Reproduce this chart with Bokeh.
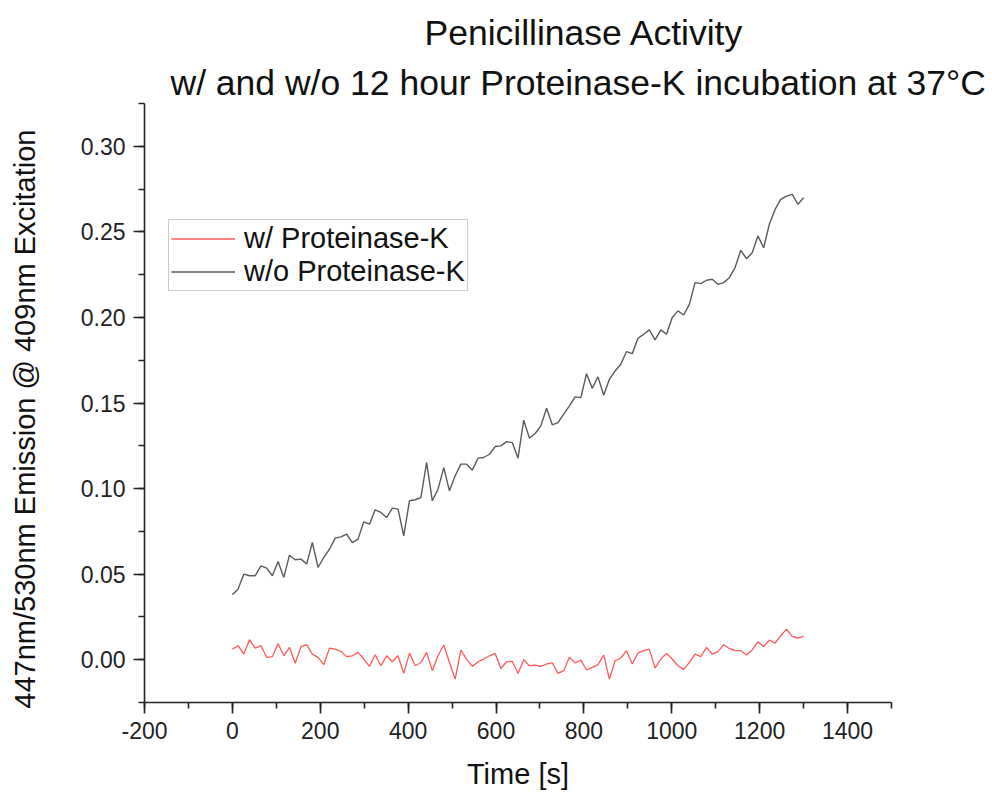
from bokeh.plotting import figure
from bokeh.models import Range1d, FixedTicker, Title, Legend, LegendItem, PrintfTickFormatter
from bokeh.embed import file_html
from bokeh.resources import INLINE

# ---- data ----
time_s = [0, 13, 26, 39, 52, 65, 78, 91, 104, 117, 130, 143, 156, 169, 182, 195, 208, 221, 234, 247,
          260, 273, 286, 299, 312, 325, 338, 351, 364, 377, 390, 403, 416, 429, 442, 455, 468, 481, 494, 507,
          520, 533, 546, 559, 572, 585, 598, 611, 624, 637, 650, 663, 676, 689, 702, 715, 728, 741, 754, 767,
          780, 793, 806, 819, 832, 845, 858, 871, 884, 897, 910, 923, 936, 949, 962, 975, 988, 1001, 1014, 1027,
          1040, 1053, 1066, 1079, 1092, 1105, 1118, 1131, 1144, 1157, 1170, 1183, 1196, 1209, 1222, 1235, 1248,
          1261, 1274, 1287, 1300]

with_pk = [0.0062, 0.0082, 0.0033, 0.0117, 0.0068, 0.0082, 0.0014, 0.0018, 0.0095, 0.0023,
           0.0072, -0.0021, 0.0076, 0.0088, 0.0033, 0.0014, -0.0029, 0.0068, 0.0062, 0.0049,
           0.0018, 0.0023, 0.0043, 0.0004, -0.0039, 0.0029, -0.0035, 0.0023, -0.0012, 0.0023,
           -0.0080, 0.0039, -0.0035, -0.0016, 0.0043, -0.0064, 0.0023, 0.0086, -0.0016, -0.0113,
           0.0057, 0.0004, -0.0039, -0.0012, 0.0004, 0.0023, 0.0037, -0.0051, -0.0012, -0.0010,
           -0.0080, 0.0000, -0.0035, -0.0031, -0.0039, -0.0025, -0.0019, -0.0080, -0.0064, 0.0014,
           -0.0019, -0.0002, -0.0060, -0.0045, -0.0029, 0.0027, -0.0113, -0.0006, 0.0010, 0.0053,
           -0.0025, 0.0039, 0.0053, 0.0062, -0.0049, 0.0004, 0.0037, 0.0004, -0.0035, -0.0058,
           -0.0016, 0.0033, 0.0018, 0.0072, 0.0033, 0.0047, 0.0088, 0.0066, 0.0053, 0.0053,
           0.0027, 0.0057, 0.0105, 0.0076, 0.0115, 0.0097, 0.0140, 0.0179, 0.0136, 0.0127,
           0.0136]

without_pk = [0.0380, 0.0413, 0.0500, 0.0491, 0.0491, 0.0549, 0.0535, 0.0491, 0.0574, 0.0481,
              0.0611, 0.0584, 0.0588, 0.0559, 0.0685, 0.0539, 0.0598, 0.0646, 0.0711, 0.0718,
              0.0734, 0.0685, 0.0705, 0.0806, 0.0792, 0.0876, 0.0861, 0.0831, 0.0886, 0.0880,
              0.0724, 0.0929, 0.0935, 0.0948, 0.1153, 0.0929, 0.0997, 0.1123, 0.0987, 0.1075,
              0.1143, 0.1143, 0.1108, 0.1178, 0.1182, 0.1201, 0.1246, 0.1250, 0.1275, 0.1269,
              0.1178, 0.1400, 0.1295, 0.1322, 0.1367, 0.1470, 0.1373, 0.1386, 0.1435, 0.1484,
              0.1536, 0.1532, 0.1672, 0.1587, 0.1653, 0.1546, 0.1639, 0.1688, 0.1727, 0.1801,
              0.1789, 0.1879, 0.1902, 0.1928, 0.1869, 0.1928, 0.1902, 0.2000, 0.2039, 0.2015,
              0.2077, 0.2204, 0.2198, 0.2218, 0.2224, 0.2194, 0.2204, 0.2233, 0.2292, 0.2393,
              0.2344, 0.2379, 0.2477, 0.2408, 0.2545, 0.2632, 0.2691, 0.2710, 0.2720, 0.2662,
              0.2700]

series_labels = ["w/ Proteinase-K", "w/o Proteinase-K"]
title_line1 = "Penicillinase Activity"
title_line2 = "w/ and w/o 12 hour Proteinase-K incubation at 37\u00b0C"
x_label = "Time [s]"
y_label = "447nm/530nm Emission @ 409nm Excitation\u00a0\u00a0\u00a0\u00a0"
x_major = [-200, 0, 200, 400, 600, 800, 1000, 1200, 1400]
x_minor = [-200, -100, 0, 100, 200, 300, 400, 500, 600, 700, 800, 900, 1000, 1100, 1200, 1300, 1400, 1500]
y_major = [0.00, 0.05, 0.10, 0.15, 0.20, 0.25, 0.30]
y_minor = [-0.025, 0.0, 0.025, 0.05, 0.075, 0.10, 0.125, 0.15, 0.175, 0.20, 0.225, 0.25, 0.275, 0.30, 0.325]

FONT = "Liberation Sans"

p = figure(width=992, height=794, output_backend="svg", toolbar_location=None, title=None,
           x_range=Range1d(-200, 1500), y_range=Range1d(-0.025, 0.3251),
           min_border_left=144, min_border_right=101, min_border_top=103, min_border_bottom=92)
p.outline_line_color = None
p.grid.visible = False
p.background_fill_color = "white"
p.border_fill_color = "white"

r_with = p.line(time_s, with_pk, line_color="#ff5a5a", line_width=1.3)
r_without = p.line(time_s, without_pk, line_color="#5a5a5a", line_width=1.4)

for ax in (p.xaxis[0], p.yaxis[0]):
    ax.axis_line_color = "#222222"
    ax.axis_line_width = 1.6
    ax.major_tick_line_color = "#222222"
    ax.minor_tick_line_color = "#222222"
    ax.major_tick_line_width = 1.6
    ax.minor_tick_line_width = 1.6
    ax.major_tick_in = 0
    ax.major_tick_out = 11
    ax.minor_tick_in = 0
    ax.minor_tick_out = 6
    ax.major_label_text_font = FONT
    ax.major_label_text_font_size = "23px"
    ax.major_label_text_color = "#222222"
    ax.axis_label_text_font = FONT
    ax.axis_label_text_font_size = "29px"
    ax.axis_label_text_font_style = "normal"
    ax.axis_label_text_color = "#111111"

p.xaxis.ticker = FixedTicker(ticks=x_major, minor_ticks=x_minor)
p.yaxis.ticker = FixedTicker(ticks=y_major, minor_ticks=y_minor)
p.xaxis.formatter = PrintfTickFormatter(format="%d")
p.yaxis.formatter = PrintfTickFormatter(format="%.2f")
p.xaxis.axis_label = x_label
p.yaxis.axis_label = y_label
p.xaxis.major_label_standoff = 8
p.yaxis.major_label_standoff = 8
p.xaxis.axis_label_standoff = 16
p.yaxis.axis_label_standoff = 37

t2 = Title(text=title_line2, align="left", offset=26, text_font=FONT, text_font_size="35.5px",
           text_font_style="normal", text_color="#111111", standoff=1)
p.add_layout(t2, "above")
spacer = Title(text="\u00a0", align="left", text_font=FONT, text_font_size="6px", standoff=0)
p.add_layout(spacer, "above")
t1 = Title(text=title_line1, align="left", offset=280, text_font=FONT, text_font_size="35.5px",
           text_font_style="normal", text_color="#111111", standoff=0)
p.add_layout(t1, "above")

legend = Legend(items=[LegendItem(label=series_labels[0], renderers=[r_with]),
                       LegendItem(label=series_labels[1], renderers=[r_without])],
                location=(24, 411))
legend.label_text_font = FONT
legend.label_text_font_size = "29px"
legend.label_text_color = "#111111"
legend.glyph_width = 64
legend.glyph_height = 31
legend.label_height = 31
legend.label_standoff = 9
legend.spacing = 0
legend.padding = 2
legend.margin = 0
legend.border_line_color = "#999999"
legend.border_line_width = 1
legend.background_fill_color = "white"
p.add_layout(legend)

open("out.html", "w").write(file_html(p, INLINE))
